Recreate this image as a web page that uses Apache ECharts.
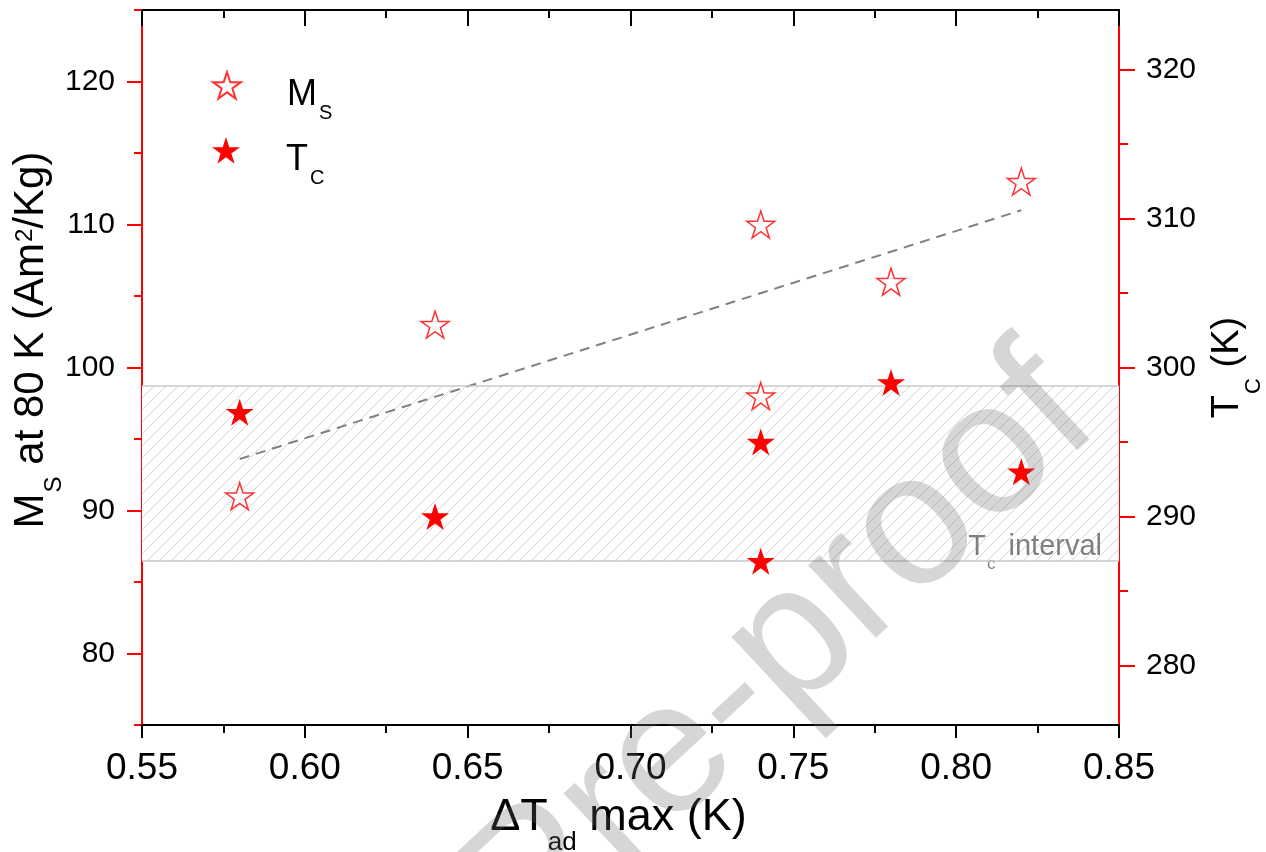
<!DOCTYPE html>
<html>
<head>
<meta charset="utf-8">
<script src="https://cdn.jsdelivr.net/npm/echarts@6/dist/echarts.min.js"></script>
<style>
html,body{margin:0;padding:0;background:#fff;}
#chart{width:1266px;height:852px;}
</style>
</head>
<body>
<div id="chart"></div>
<script>
// ---- data ----
const msX = [0.58, 0.64, 0.74, 0.74, 0.78, 0.82];
const msY = [91, 103, 110, 98, 106, 113];
const tcX = [0.58, 0.64, 0.74, 0.74, 0.78, 0.82];
const tcY = [297, 290, 295, 287, 299, 293];
const fitX = [0.58, 0.82];
const fitY = [93.6, 111.0];
const tcInterval = [287, 298.8];
const xRange = [0.55, 0.85];
const leftRange = [75, 125];
const rightRange = [276, 324];
const leftMajor = [80, 90, 100, 110, 120];
const leftMinor = [75, 85, 95, 105, 115, 125];
const rightMajor = [280, 290, 300, 310, 320];
const rightMinor = [285, 295, 305, 315];

const FONT = '"Liberation Sans", Arial, sans-serif';
const RED = '#ff0000';
const STAR = 'path://M0,-100 L22.45,-30.9 L95.11,-30.9 L36.33,11.8 L58.78,80.9 L0,38.2 L-58.78,80.9 L-36.33,11.8 L-95.11,-30.9 L-22.45,-30.9 Z';

function zip(a, b) { return a.map((v, i) => [v, b[i]]); }

// hatch pattern for the Tc interval band
const hatch = document.createElement('canvas');
hatch.width = 12; hatch.height = 12;
(function () {
  const c = hatch.getContext('2d');
  c.fillStyle = '#ffffff'; c.fillRect(0, 0, 12, 12);
  c.strokeStyle = '#d4d4d4'; c.lineWidth = 1;
  c.beginPath();
  c.moveTo(0, 12); c.lineTo(12, 0);
  c.moveTo(-2, 2); c.lineTo(2, -2);
  c.moveTo(10, 14); c.lineTo(14, 10);
  c.stroke();
})();

const chart = echarts.init(document.getElementById('chart'), null, {renderer: 'canvas'});

const xCommon = {
  type: 'value', min: xRange[0], max: xRange[1], interval: 0.05,
  splitLine: {show: false},
  axisLine: {show: true, onZero: false, lineStyle: {color: '#000', width: 2}},
};

const legendRich = {
  m: {fontSize: 36, lineHeight: 36, verticalAlign: 'top', fontFamily: FONT, color: '#000'},
  s: {fontSize: 20, lineHeight: 20, padding: [26, 0, 0, 2], verticalAlign: 'top', fontFamily: FONT, color: '#000'}
};
function legendFmt(n) { return n === 'Ms' ? '{m|M}{s|S}' : '{m|T}{s|C}'; }

const option = {
  animation: false,
  backgroundColor: '#fff',
  textStyle: {fontFamily: FONT},
  grid: {left: 142, right: 147, top: 10, bottom: 127, containLabel: false, outerBoundsMode: 'none'},
  legend: [
    {data: ['Ms'], orient: 'vertical', left: 207, top: 66, itemWidth: 28, itemHeight: 27,
     formatter: legendFmt, textStyle: {padding: [20, 0, 0, 41], rich: legendRich}},
    {data: ['Tc'], orient: 'vertical', left: 207, top: 132, itemWidth: 28, itemHeight: 27,
     formatter: legendFmt, textStyle: {padding: [20, 0, 0, 41], rich: legendRich}}
  ],
  xAxis: [
    Object.assign({}, xCommon, {
      position: 'bottom',
      axisTick: {show: true, inside: false, length: 13, lineStyle: {color: '#000', width: 2}},
      minorTick: {show: true, splitNumber: 2, length: 8, lineStyle: {color: '#000', width: 2}},
      axisLabel: {fontSize: 37, color: '#000', margin: 25, fontFamily: FONT, formatter: v => v.toFixed(2)},
      name: '{t|ΔT}{s|ad}{t| max (K)}',
      nameLocation: 'middle', nameGap: 70, nameMoveOverlap: false,
      nameTextStyle: {
        padding: [0, 24, 0, 0],
        rich: {
          t: {fontSize: 45, lineHeight: 50, verticalAlign: 'top', fontFamily: FONT, color: '#000'},
          s: {fontSize: 26, lineHeight: 26, padding: [35, 0, 0, 0], verticalAlign: 'top', fontFamily: FONT, color: '#000'}
        }
      }
    }),
    Object.assign({}, xCommon, {
      position: 'top',
      axisTick: {show: true, inside: true, length: 16, lineStyle: {color: '#000', width: 2}},
      minorTick: {show: true, splitNumber: 2, length: 8, lineStyle: {color: '#000', width: 2}},
      axisLabel: {show: false}
    })
  ],
  yAxis: [
    {
      type: 'value', position: 'left', min: leftRange[0], max: leftRange[1],
      splitLine: {show: false},
      axisLine: {show: true, onZero: false, lineStyle: {color: RED, width: 2}},
      axisTick: {show: true, customValues: leftMajor, length: 15, lineStyle: {color: RED, width: 2}},
      axisLabel: {customValues: leftMajor, fontSize: 30, color: '#000', margin: 27, fontFamily: FONT},
      name: '{m|M}{s|S}{m| at 80 K (Am}{p|2}{m|/Kg)}',
      nameLocation: 'middle', nameGap: 84, nameMoveOverlap: false,
      nameTextStyle: {
        padding: [0, 0, 0, 55],
        rich: {
          m: {fontSize: 42, lineHeight: 48, verticalAlign: 'top', fontFamily: FONT, color: '#000'},
          s: {fontSize: 24, lineHeight: 24, padding: [32, 0, 0, 1], verticalAlign: 'top', fontFamily: FONT, color: '#000'},
          p: {fontSize: 24, lineHeight: 24, padding: [3, 0, 0, 1], verticalAlign: 'top', fontFamily: FONT, color: '#000'}
        }
      }
    },
    {
      type: 'value', position: 'right', min: rightRange[0], max: rightRange[1],
      splitLine: {show: false},
      axisLine: {show: true, onZero: false, lineStyle: {color: RED, width: 2}},
      axisTick: {show: true, customValues: rightMajor, length: 16, lineStyle: {color: RED, width: 2}},
      axisLabel: {customValues: rightMajor, fontSize: 30, color: '#000', margin: 27, fontFamily: FONT},
      name: '{t|T}{s|C}{t| (K)}',
      nameLocation: 'middle', nameGap: 90, nameMoveOverlap: false,
      nameTextStyle: {
        rich: {
          t: {fontSize: 38, lineHeight: 46, verticalAlign: 'top', fontFamily: FONT, color: '#000'},
          s: {fontSize: 22, lineHeight: 22, padding: [34, 0, 0, 1], verticalAlign: 'top', fontFamily: FONT, color: '#000'}
        }
      }
    },
    {
      type: 'value', position: 'left', min: leftRange[0], max: leftRange[1],
      splitLine: {show: false}, axisLine: {show: false, onZero: false},
      axisTick: {show: true, customValues: leftMinor, length: 8, lineStyle: {color: RED, width: 2}},
      axisLabel: {show: false}
    },
    {
      type: 'value', position: 'right', min: rightRange[0], max: rightRange[1],
      splitLine: {show: false}, axisLine: {show: false, onZero: false},
      axisTick: {show: true, customValues: rightMinor, length: 9, lineStyle: {color: RED, width: 2}},
      axisLabel: {show: false}
    }
  ],
  series: [
    {
      name: 'Fit', type: 'line', xAxisIndex: 0, yAxisIndex: 0,
      data: zip(fitX, fitY), showSymbol: false, symbol: 'none', silent: true, z: 3,
      lineStyle: {color: '#808080', width: 2, type: [10, 7]}
    },
    {
      name: 'Tc', type: 'scatter', xAxisIndex: 0, yAxisIndex: 1,
      data: zip(tcX, tcY), symbol: STAR, symbolSize: [28, 27], z: 5,
      itemStyle: {color: RED, borderWidth: 0, opacity: 1},
      markArea: {
        silent: true,
        itemStyle: {color: {image: hatch, repeat: 'repeat'}, borderWidth: 0},
        label: {
          show: true, position: 'insideBottomRight', distance: 0, offset: [-17, 5],
          formatter: '{t|T}{s|c}{t| interval}',
          rich: {
            t: {fontSize: 29, lineHeight: 34, verticalAlign: 'top', color: '#7f7f7f', fontFamily: FONT},
            s: {fontSize: 17, lineHeight: 17, padding: [24, 5, 0, 1], verticalAlign: 'top', color: '#7f7f7f', fontFamily: FONT}
          }
        },
        data: [[{xAxis: xRange[0], yAxis: tcInterval[0]}, {xAxis: xRange[1], yAxis: tcInterval[1]}]]
      },
      markLine: {
        silent: true, symbol: ['none', 'none'], label: {show: false},
        lineStyle: {color: '#c8c8c8', width: 1.5, type: 'solid'},
        data: [{yAxis: tcInterval[0]}, {yAxis: tcInterval[1]}]
      }
    },
    {
      name: 'Ms', type: 'scatter', xAxisIndex: 0, yAxisIndex: 0,
      data: zip(msX, msY), symbol: STAR, symbolSize: [28, 27], z: 6,
      itemStyle: {color: '#ffffff', borderColor: RED, borderWidth: 1.5}
    }
  ],
  graphic: [
    {
      type: 'text', z: 100, silent: true,
      x: 1068, y: 388, rotation: 43 * Math.PI / 180,
      style: {
        text: 'Journal Pre-proof',
        font: '188px "Liberation Sans", Arial, sans-serif',
        fill: 'rgba(107,107,107,0.28)',
        textAlign: 'right', textVerticalAlign: 'middle'
      }
    }
  ]
};
chart.setOption(option);
</script>
</body>
</html>
